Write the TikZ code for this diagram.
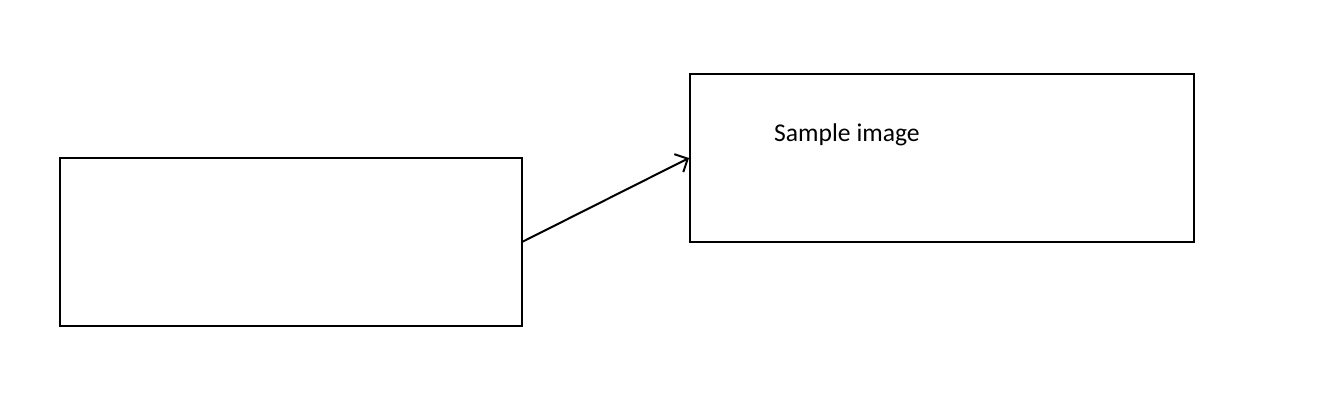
\documentclass[tikz,border=0pt]{standalone}
\usepackage{fontspec}
\setmainfont{Carlito}
\usetikzlibrary{arrows.meta}
\begin{document}
\begin{tikzpicture}[x=1pt,y=-1pt,
  box/.style={draw=black,line width=2pt},
  conn/.style={draw=black,line width=2pt,-{Straight Barb[length=10pt,width=20pt,line width=2pt]}}]
\useasboundingbox (0,0) rectangle (1340,409);
\fill[white] (0,0) rectangle (1340,409);
\draw[box] (60,158) rectangle (522,326);
\draw[box] (690,74) rectangle (1194,242);
\coordinate (a) at (522,242);
\coordinate (b) at (689,158);
\draw[conn] (a) -- (b);
\node[anchor=base west,inner sep=0pt,font=\fontsize{25.6}{30}\selectfont] (t) at (774,142) {Sample image};
\end{tikzpicture}
\end{document}
